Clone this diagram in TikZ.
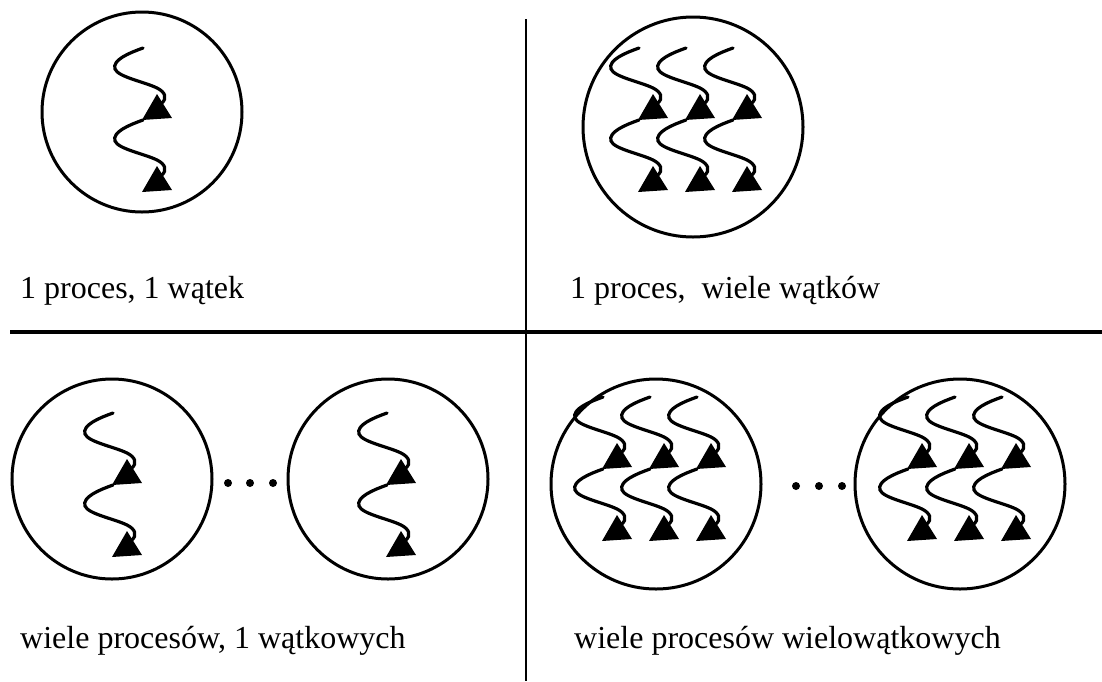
\documentclass[tikz,border=0pt]{standalone}
\usepackage{fontspec}
\setmainfont{Liberation Serif}
\begin{document}
\begin{tikzpicture}[x=1pt,y=-1pt,
  proc/.style={draw, line width=3pt, circle, inner sep=0pt, minimum size=#1},
  thr/.style={line width=3.2pt, line cap=round},
  caption/.style={anchor=base west, inner sep=0pt, font=\fontsize{32}{36}\selectfont},
  sep/.style={line width=#1},
  dot/.style={fill, circle, inner sep=0pt, minimum size=8pt},
  thread/.pic={
    \foreach \k in {0,1}{
      \begin{scope}[shift={(0,72*\k)}]
        \draw[thr] (0,0) .. controls (-14,5) and (-31,12) .. (-28,21)
              .. controls (-25,29) and (2,34) .. (14,40)
              .. controls (22,44) and (25,50) .. (18,56);
        \fill (14,46) -- (-1,72) -- (29,70) -- cycle;
      \end{scope}
    }
  },
  threads/.pic={
    \pic at (0,0) {thread};
    \pic at (47,0) {thread};
    \pic at (94,0) {thread};
  }
]
\useasboundingbox (0,0) rectangle (1102,681);

% quadrant separators
\coordinate (vtop) at (526,19);
\coordinate (vbot) at (526,681);
\coordinate (hl) at (10,332);
\coordinate (hr) at (1102,332);
\draw[sep=2.8pt] (vtop) -- (vbot);
\draw[sep=3.4pt] (hl) -- (hr);

% 1 process, 1 thread
\node[proc=200pt] (p1) at (142,112) {};
\pic at (143,48) {thread};
\node[caption] (t1) at (20,298) {1 proces, 1 wątek};

% 1 process, many threads
\node[proc=220pt] (p2) at (693,127) {};
\pic at (639,48) {threads};
\node[caption] (t2) at (570,298) {1 proces,\ \ wiele wątków};

% many single-threaded processes
\node[proc=200pt] (p3) at (112,479) {};
\pic at (113,413) {thread};
\node[proc=200pt] (p4) at (388,479) {};
\pic at (387,413) {thread};
\node[dot] (d1) at (228,483) {};
\node[dot] (d2) at (250,483) {};
\node[dot] (d3) at (273,483) {};
\node[caption] (t3) at (20,648) {wiele procesów, 1 wątkowych};

% many multi-threaded processes
\node[proc=210pt] (p5) at (656,484) {};
\pic at (603,397) {threads};
\node[proc=210pt] (p6) at (960,484) {};
\pic at (908,397) {threads};
\node[dot] (d4) at (796,486) {};
\node[dot] (d5) at (819,486) {};
\node[dot] (d6) at (842,486) {};
\node[caption] (t4) at (574,648) {wiele procesów wielowątkowych};
\end{tikzpicture}
\end{document}
